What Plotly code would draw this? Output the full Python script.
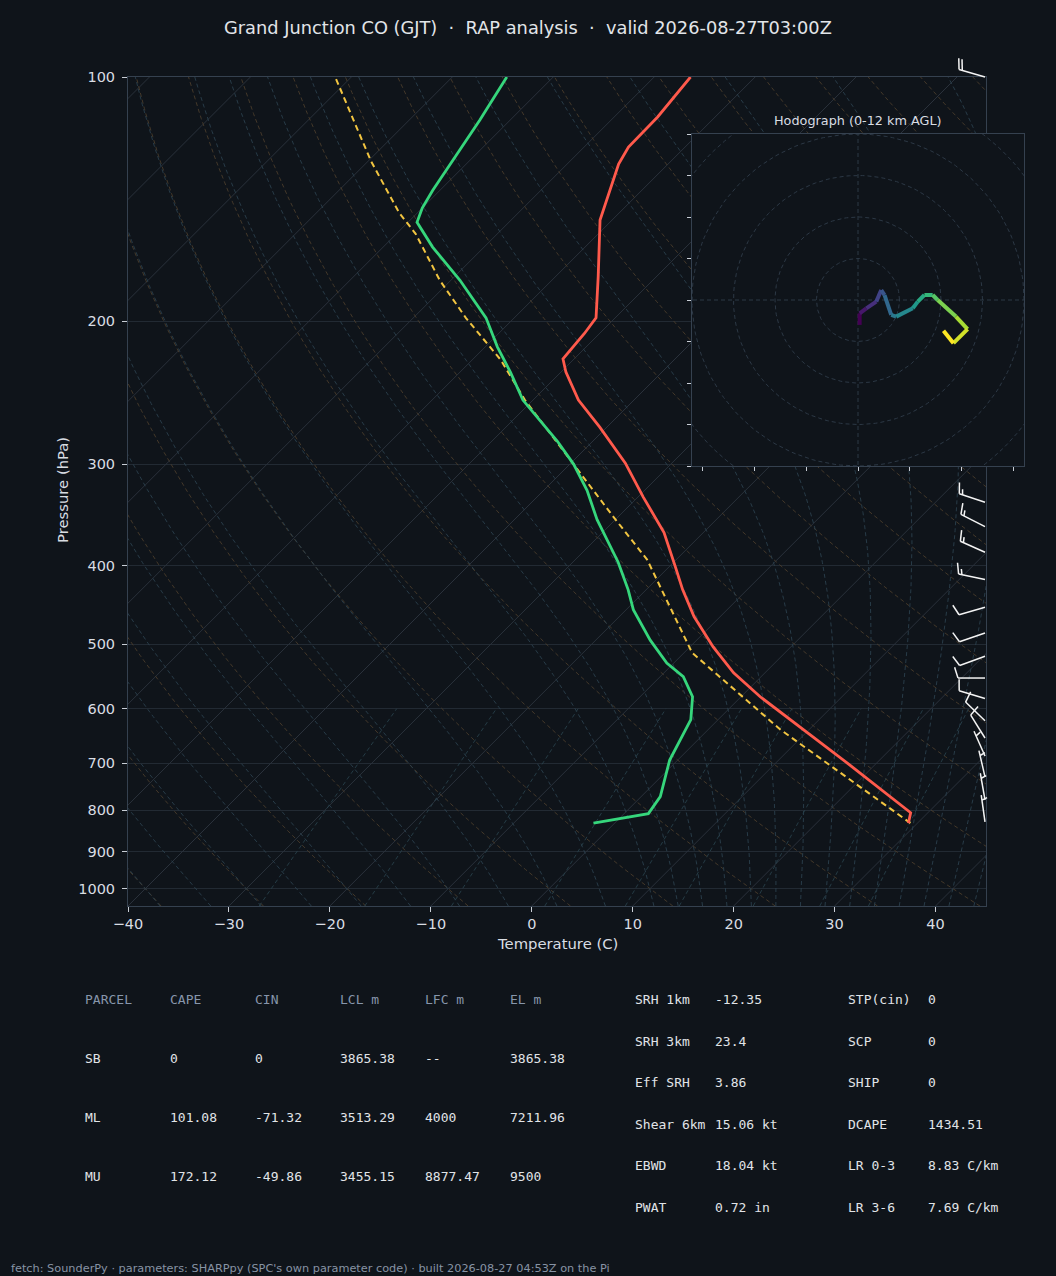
import numpy as np
import plotly.graph_objects as go
from plotly.colors import sample_colorscale

W, H = 1056, 1276
BG = '#0f141a'
FRAME = '#35414f'
TICK = '#c9ced6'
TXT = '#d9dde3'

# plot box in pixels
PL, PR, PT, PB = 128, 986, 77, 906
P_BOT, P_TOP = 1050.0, 100.0
T_MIN, T_MAX = -40, 45
# hodograph box in pixels
HL, HR, HT, HB = 692, 1024, 134, 466

# ---- sounding ----
pres = [830, 806, 700, 607, 580, 542, 503.5, 462, 428, 401, 364, 329, 299, 270,
        250, 231, 222.5, 207, 198, 176, 150, 128, 122, 112, 100]
temp = [29.1, 28.3, 17.1, 5.5, 1.9, -3.1, -7.7, -12.6, -16.4, -19.4, -23.9, -29.5,
        -34.6, -40.7, -45.5, -49.5, -51.1, -51.5, -51.9, -55.8, -61.2, -64.9, -65.6,
        -65.7, -66.4]

dew_pres = [830, 808, 770, 694, 619, 580, 548, 527, 494, 453, 428, 396, 351, 323,
            300, 281, 250, 231, 215, 198, 178, 162, 151, 145, 138, 113, 100]
dwpt = [-2.1, 2.4, 1.9, -0.8, -2.7, -4.8, -7.7, -10.7, -14.6, -19.3, -21.8, -25.5,
        -31.8, -35.7, -39.6, -43.5, -51.0, -55.0, -58.8, -62.8, -69.1, -75.1, -79.1,
        -80.0, -80.7, -83.0, -84.6]

parcel_p = [830, 637, 512, 450, 393, 348, 299, 264, 250, 223, 198, 178, 156, 147, 127, 100]
parcel_t = [29.3, 7.2, -9.2, -15.9, -22.9, -30.5, -39.8, -47.4, -50.8, -57.2, -64.8,
            -71.1, -78.1, -81.8, -89.7, -101.6]

# wind barbs (hPa, kt, direction from)
barb_p = [100, 334, 358, 385, 416, 450, 484, 517, 550, 583, 621, 652, 686, 728, 777, 827]
barb_spd = [20, 15, 15, 15, 15, 10, 10, 10, 10, 10, 10, 10, 5, 5, 5, 5]
barb_dir = [286, 288, 297, 294, 282, 254, 251, 250, 270, 287, 314, 328, 336, 347, 350, 352]

# hodograph 0-12 km (kt)
hodo_u = [0.4, 0.4, 2.0, 4.4, 5.6, 6.4, 8.0, 9.2, 13.2, 14.4, 16.0, 18.0, 19.2, 23.6, 26.4, 23.0, 20.6]
hodo_v = [-6.0, -3.2, -2.0, -0.4, 2.4, 1.2, -3.6, -4.0, -2.0, -0.4, 1.2, 1.2, 0.0, -4.0, -7.0, -10.4, -7.4]

# ---- parameter table ----
tbl_head = ['PARCEL', 'CAPE', 'CIN', 'LCL m', 'LFC m', 'EL m']
parcel_names = ['SB', 'ML', 'MU']
cape = ['0', '101.08', '172.12']
cin = ['0', '-71.32', '-49.86']
lcl = ['3865.38', '3513.29', '3455.15']
lfc = ['--', '4000', '8877.47']
el = ['3865.38', '7211.96', '9500']

idx_names1 = ['SRH 1km', 'SRH 3km', 'Eff SRH', 'Shear 6km', 'EBWD', 'PWAT']
idx_vals1 = ['-12.35', '23.4', '3.86', '15.06 kt', '18.04 kt', '0.72 in']
idx_names2 = ['STP(cin)', 'SCP', 'SHIP', 'DCAPE', 'LR 0-3', 'LR 3-6']
idx_vals2 = ['0', '0', '0', '1434.51', '8.83 C/km', '7.69 C/km']

SEP = '\u00a0\u00a0\u00b7\u00a0\u00a0'
TITLE = SEP.join(['Grand Junction CO (GJT)', 'RAP analysis', 'valid 2026-08-27T03:00Z'])
FOOTER = ("fetch: SounderPy \u00b7 parameters: SHARPpy (SPC's own parameter code) "
          "\u00b7 built 2026-08-27 04:53Z on the Pi")

# ---- skew geometry (45 deg in pixels) ----
ppd = (PB - PT) / np.log10(P_BOT / P_TOP)     # px per pressure decade
ppc = (PR - PL) / (T_MAX - T_MIN)             # px per degC
K = ppd / ppc


def skew(t, p):
    return np.asarray(t, float) + K * (np.log10(P_BOT) - np.log10(np.asarray(p, float)))


def join(lines):
    xs, ys = [], []
    for x, y in lines:
        xs += list(x) + [None]
        ys += list(y) + [None]
    return xs, ys


P = np.logspace(np.log10(P_BOT), np.log10(P_TOP), 160)

# isotherms
iso = [(skew([t, t], [P_BOT, P_TOP]), [P_BOT, P_TOP]) for t in range(-160, 50, 10)]
# dry adiabats
dry = []
for th in range(-40, 210, 10):
    t = (th + 273.15) * (P / 1000.0) ** 0.2857 - 273.15
    dry.append((skew(t, P), P))

# moist adiabats
Rd, Cp, Lv, EPS = 287.04, 1005.7, 2.501e6, 0.622


def dtdp(t, p):
    es = 6.112 * np.exp(17.67 * (t - 273.15) / (t - 29.65))
    rs = EPS * es / (p - es)
    return (Rd * t + Lv * rs) / (Cp + Lv ** 2 * rs * EPS / (Rd * t ** 2)) / p


def moist_line(t0):
    pg = np.concatenate([np.linspace(P_BOT, 1000.0, 4)[:-1], np.logspace(3, 2, 180)])
    i0 = 3
    out = np.zeros_like(pg)
    out[i0] = t0 + 273.15
    for rng in (range(i0, len(pg) - 1), range(i0, 0, -1)):
        for i in rng:
            j = i + 1 if rng.step > 0 else i - 1
            h = pg[j] - pg[i]
            t, p = out[i], pg[i]
            k1 = dtdp(t, p)
            k2 = dtdp(t + h / 2 * k1, p + h / 2)
            k3 = dtdp(t + h / 2 * k2, p + h / 2)
            k4 = dtdp(t + h * k3, p + h)
            out[j] = t + h / 6 * (k1 + 2 * k2 + 2 * k3 + k4)
    return skew(out - 273.15, pg), pg


moist_t0 = list(range(-40, 11, 5)) + list(np.arange(12.5, 45.1, 2.5))
moist = [moist_line(t0) for t0 in moist_t0]

# mixing ratio lines
mix = []
PM = np.linspace(P_BOT, 600, 40)
for w in [0.0004, 0.001, 0.002, 0.004, 0.007, 0.01, 0.016, 0.024, 0.032]:
    e = PM * w / (EPS + w)
    le = np.log(e / 6.112)
    td = 243.5 * le / (17.67 - le)
    mix.append((skew(td, PM), PM))

fig = go.Figure()


def bg_trace(lines, color, dash, width=0.9):
    xs, ys = join(lines)
    fig.add_trace(go.Scatter(x=xs, y=ys, mode='lines', hoverinfo='skip',
                             line=dict(color=color, width=width, dash=dash)))


bg_trace(iso, '#2a313b', 'solid', 1)
bg_trace(dry, '#4a3c2b', '4px,3px')
bg_trace(moist, '#2a404d', '4px,3px')
bg_trace(mix, '#27404a', '4px,3px')

fig.add_trace(go.Scatter(x=skew(parcel_t, parcel_p), y=parcel_p, mode='lines',
                         line=dict(color='#f2c541', width=2, dash='6px,4px')))
fig.add_trace(go.Scatter(x=skew(dwpt, dew_pres), y=dew_pres, mode='lines',
                         line=dict(color='#36d67c', width=2.8)))
fig.add_trace(go.Scatter(x=skew(temp, pres), y=pres, mode='lines',
                         line=dict(color='#ff5a4c', width=2.8)))

# ---- wind barbs on their own overlay axes (x in px, y in hPa) ----
BARB_LEN = 27.0
BARB_X = PR - 1
B_TOP_PX = 30
p_top2 = 10 ** (np.log10(P_TOP) - (PT - B_TOP_PX) / ppd)

bx, by = [], []
s = BARB_LEN / 7.0
spacing, fh, fw = 0.875 * s, 2.8 * s, 1.75 * s
for p0, spd, wd in zip(barb_p, barb_spd, barb_dir):
    r = np.deg2rad(wd)
    dx, dy = np.sin(r), np.cos(r)
    qx, qy = dy, -dx
    segs = [((0, 0), (dx * BARB_LEN, dy * BARB_LEN))]
    rnd = int(5 * round(spd / 5.0))
    full = (rnd % 50) // 10
    half = (rnd % 10) >= 5
    off = BARB_LEN
    for _ in range(full):
        a = (dx * off, dy * off)
        segs.append((a, (a[0] + qx * fh + dx * fw / 2, a[1] + qy * fh + dy * fw / 2)))
        off -= spacing
    if half:
        if off == BARB_LEN:
            off -= 1.5 * spacing
        a = (dx * off, dy * off)
        segs.append((a, (a[0] + qx * fh / 2 + dx * fw / 4, a[1] + qy * fh / 2 + dy * fw / 4)))
    for (x0, y0), (x1, y1) in segs:
        bx += [BARB_X + x0, BARB_X + x1, None]
        by += [p0 * 10 ** (-y0 / ppd), p0 * 10 ** (-y1 / ppd), None]

fig.add_trace(go.Scatter(x=bx, y=by, mode='lines', xaxis='x2', yaxis='y2',
                         line=dict(color='#f4f4f4', width=1.5), hoverinfo='skip'))

# ---- hodograph ----
fig.add_trace(go.Scatter(x=[-40, 40, 40, -40, -40], y=[-40, -40, 40, 40, -40],
                         mode='lines', fill='toself', fillcolor=BG, line=dict(width=0),
                         xaxis='x3', yaxis='y3', hoverinfo='skip'))
ang = np.linspace(0, 2 * np.pi, 181)
rings = [(r * np.cos(ang), r * np.sin(ang)) for r in (10, 20, 30, 40, 50)]
rings += [([-60, 60], [0, 0]), ([0, 0], [-60, 60])]
rx, ry = join(rings)
fig.add_trace(go.Scatter(x=rx, y=ry, mode='lines', xaxis='x3', yaxis='y3', hoverinfo='skip',
                         line=dict(color='#2c3845', width=1, dash='4px,3px')))
n = len(hodo_u)
cols = sample_colorscale('Viridis', [i / (n - 2) for i in range(n - 1)])
for i in range(n - 1):
    fig.add_trace(go.Scatter(x=hodo_u[i:i + 2], y=hodo_v[i:i + 2], mode='lines',
                             xaxis='x3', yaxis='y3',
                             line=dict(color=cols[i], width=4)))

# ---- annotations ----
ann = []


def text(px, py, s, size=13, color=TXT, family='DejaVu Sans', anchor='left', angle=0):
    ann.append(dict(x=px / W, y=1 - py / H, xref='paper', yref='paper', text=s,
                    showarrow=False, xanchor=anchor, yanchor='middle', textangle=angle,
                    font=dict(size=size, color=color, family=family)))


text(W / 2, 27, TITLE, size=17.8, color='#e2e5e9', anchor='center')
text(63, 490, 'Pressure (hPa)', size=14.8, anchor='center', angle=-90)
text(557, 943, 'Temperature (C)', size=14.8, anchor='center')
text((HL + HR) / 2, 120, 'Hodograph (0-12 km AGL)', size=12.8, anchor='center')

MONO = 'DejaVu Sans Mono'
tcols = [83, 168, 253, 338, 423, 508]
trows = [999, 1058, 1117, 1176]
for c, h in zip(tcols, tbl_head):
    text(c, trows[0], h, family=MONO, color='#8796ab')
for r, row in enumerate(zip(parcel_names, cape, cin, lcl, lfc, el)):
    for c, v in zip(tcols, row):
        text(c, trows[r + 1], v, family=MONO, color='#e1e4e8')

irows = [999, 1041, 1082, 1124, 1165, 1207]
for r in range(len(irows)):
    text(633, irows[r], idx_names1[r], family=MONO, color='#e1e4e8')
    text(713, irows[r], idx_vals1[r], family=MONO, color='#e1e4e8')
    text(846, irows[r], idx_names2[r], family=MONO, color='#e1e4e8')
    text(926, irows[r], idx_vals2[r], family=MONO, color='#e1e4e8')

text(9, 1268, FOOTER, size=11.3, color='#8793a4')

axfont = dict(family='DejaVu Sans', size=14.5, color=TXT)
hidden = dict(visible=False, automargin=False, showgrid=False, zeroline=False)
fig.update_layout(
    width=W, height=H, autosize=False,
    margin=dict(l=0, r=0, t=0, b=0, pad=0, autoexpand=False),
    paper_bgcolor=BG, plot_bgcolor='rgba(0,0,0,0)',
    showlegend=False, annotations=ann,
    xaxis=dict(domain=[PL / W, PR / W], range=[T_MIN, T_MAX], automargin=False,
               tickvals=list(range(-40, 41, 10)), ticks='outside', ticklen=5,
               tickcolor=TICK, showline=True, mirror=True, linecolor=FRAME,
               showgrid=False, zeroline=False, tickfont=axfont),
    yaxis=dict(domain=[1 - PB / H, 1 - PT / H], type='log', automargin=False,
               range=[np.log10(P_BOT), np.log10(P_TOP)],
               tickvals=[100, 200, 300, 400, 500, 600, 700, 800, 900, 1000],
               ticktext=[str(v) for v in (100, 200, 300, 400, 500, 600, 700, 800, 900, 1000)],
               ticks='outside', ticklen=5, tickcolor=TICK, ticklabelstandoff=4,
               showline=True, mirror=True, linecolor=FRAME,
               showgrid=True, gridcolor='#222a33', gridwidth=1, zeroline=False,
               tickfont=axfont),
    xaxis2=dict(domain=[0, 1], range=[0, W], anchor='y2', **hidden),
    yaxis2=dict(domain=[1 - PB / H, 1 - B_TOP_PX / H], type='log',
                range=[np.log10(P_BOT), np.log10(p_top2)], anchor='x2', **hidden),
    xaxis3=dict(domain=[HL / W, HR / W], range=[-40, 40], anchor='y3', automargin=False,
                tickvals=[-37.5, -25, -12.5, 0, 12.5, 25, 37.5], showticklabels=False,
                ticks='outside', ticklen=4, tickcolor=TICK,
                showline=True, mirror=True, linecolor=FRAME, showgrid=False, zeroline=False),
    yaxis3=dict(domain=[1 - HB / H, 1 - HT / H], range=[-40, 40], anchor='x3', automargin=False,
                tickvals=list(range(-40, 41, 10)), showticklabels=False,
                ticks='outside', ticklen=4, tickcolor=TICK,
                showline=True, mirror=True, linecolor=FRAME, showgrid=False, zeroline=False),
)

page_css = ("document.body.style.margin='0';document.body.style.padding='0';"
            "document.body.style.overflow='hidden';"
            "document.body.style.background='" + BG + "';")
fig.write_html('out.html', config={'responsive': False, 'displayModeBar': False},
               post_script=page_css)
